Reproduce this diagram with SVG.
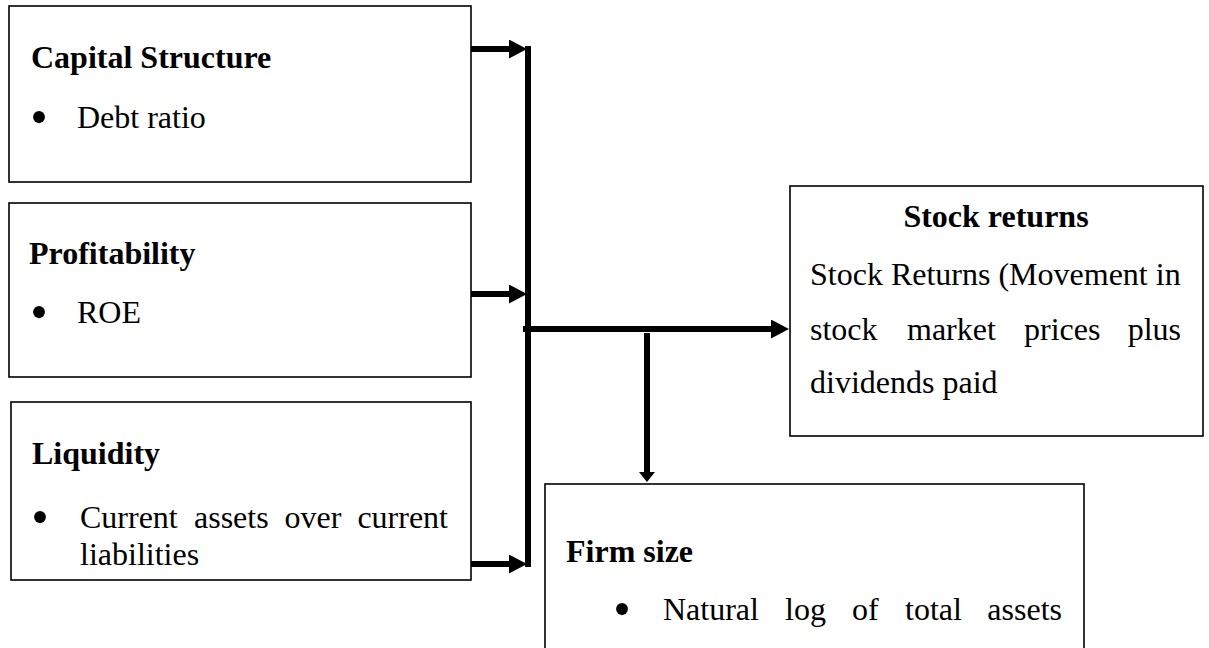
<svg xmlns="http://www.w3.org/2000/svg" width="1209" height="648" viewBox="0 0 1209 648">
<style>
  .box { fill: #ffffff; stroke: #000000; stroke-width: 1.6; }
  .t { font-family: "Liberation Serif", "Times New Roman", serif; font-size: 32px; fill: #000000; }
  .b { font-weight: bold; }
  .bul { font-family: "Liberation Serif", "Times New Roman", serif; font-size: 50px; fill: #000000; text-anchor: middle; }
  .conn { stroke: #000000; stroke-width: 6; fill: none; }
</style>
<defs>
  <marker id="arrowH" markerUnits="userSpaceOnUse" markerWidth="18" markerHeight="19" refX="0" refY="9.5" orient="auto">
    <path d="M0,0 L18,9.5 L0,19 Z" fill="#000000"/>
  </marker>
  <marker id="arrowD" markerUnits="userSpaceOnUse" markerWidth="10" markerHeight="16" refX="0" refY="8" orient="auto">
    <path d="M0,0 L10,8 L0,16 Z" fill="#000000"/>
  </marker>
</defs>
<rect width="1209" height="648" fill="#ffffff"/>

<g id="capital-structure">
  <rect class="box" x="9" y="6" width="462" height="176"/>
  <text class="t b" x="31" y="68">Capital Structure</text>
  <text class="bul" x="39" y="134">•</text>
  <text class="t" x="77" y="128">Debt ratio</text>
</g>

<g id="profitability">
  <rect class="box" x="9" y="203" width="462" height="174"/>
  <text class="t b" x="29" y="264">Profitability</text>
  <text class="bul" x="39" y="329">•</text>
  <text class="t" x="77" y="323">ROE</text>
</g>

<g id="liquidity">
  <rect class="box" x="11" y="402" width="460" height="178"/>
  <text class="t b" x="32" y="464">Liquidity</text>
  <text class="bul" x="40" y="534">•</text>
  <text class="t" x="80" y="528">Current</text>
  <text class="t" x="194" y="528">assets</text>
  <text class="t" x="284.5" y="528">over</text>
  <text class="t" x="448" y="528" text-anchor="end">current</text>
  <text class="t" x="80" y="565">liabilities</text>
</g>

<g id="stock-returns">
  <rect class="box" x="790" y="186" width="413" height="250"/>
  <text class="t b" x="996" y="227" text-anchor="middle">Stock returns</text>
  <text class="t" x="810" y="285">Stock Returns (Movement in</text>
  <text class="t" x="810" y="340">stock</text>
  <text class="t" x="907" y="340">market</text>
  <text class="t" x="1024" y="340">prices</text>
  <text class="t" x="1181" y="340" text-anchor="end">plus</text>
  <text class="t" x="810" y="393">dividends paid</text>
</g>

<g id="firm-size">
  <rect class="box" x="545" y="484" width="539" height="180"/>
  <text class="t b" x="566" y="562">Firm size</text>
  <text class="bul" x="622" y="626">•</text>
  <text class="t" x="663" y="620">Natural</text>
  <text class="t" x="785" y="620">log</text>
  <text class="t" x="852" y="620">of</text>
  <text class="t" x="905" y="620">total</text>
  <text class="t" x="1062" y="620" text-anchor="end">assets</text>
</g>

<g id="connectors">
  <line class="conn" x1="528" y1="46" x2="528" y2="567"/>
  <line class="conn" x1="471" y1="49" x2="509" y2="49" marker-end="url(#arrowH)"/>
  <line class="conn" x1="471" y1="294" x2="509" y2="294" marker-end="url(#arrowH)"/>
  <line class="conn" x1="471" y1="564" x2="509" y2="564" marker-end="url(#arrowH)"/>
  <line class="conn" x1="523" y1="329" x2="771" y2="329" marker-end="url(#arrowH)"/>
  <line class="conn" x1="647" y1="333" x2="647" y2="472" stroke-width="7" marker-end="url(#arrowD)"/>
</g>
</svg>
